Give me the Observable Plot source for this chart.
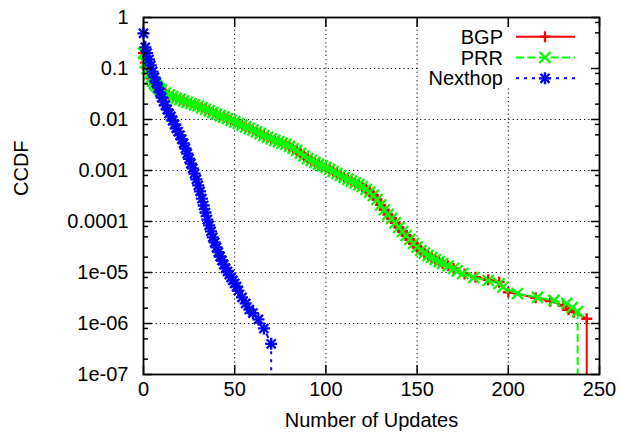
<!DOCTYPE html>
<html><head><meta charset="utf-8">
<script src="https://cdn.jsdelivr.net/npm/d3@7"></script>
<script src="https://cdn.jsdelivr.net/npm/@observablehq/plot@0.6"></script>
<style>
body{margin:0;background:#fff}
svg{font-family:"Liberation Sans",Arial,Helvetica,sans-serif}
</style>
</head><body><div id="chart"></div>
<script>
// ---- axis ticks / labels ----
const xTicks = [0, 50, 100, 150, 200, 250];
const xGrid = [50, 100, 150, 200];
const yTicks = [1, 0.1, 0.01, 0.001, 1e-4, 1e-5, 1e-6, 1e-7];
const yTickLabels = ["1", "0.1", "0.01", "0.001", "0.0001", "1e-05", "1e-06", "1e-07"];
const yGrid = [0.1, 0.01, 0.001, 1e-4, 1e-5, 1e-6];
const yMinorFactors = [0.8, 0.5, 0.2];
const xLabel = "Number of Updates";
const yLabel = "CCDF";
const seriesNames = ["BGP", "PRR", "Nexthop"];
const seriesColors = ["#ff0000", "#00ff00", "#0000ff"];

// ---- PRR (dense part; BGP coincides with it here) ----
const prrDenseX = [0,1,2,3,4,5,6,7,8,9,10,12,14,16,18,20,22,24,26,28,30,32,34,36,38,40,42,44,46,48,50,52,54,56,58,60,62,64,66,68,70,72,74,76,78,80,82,84,86,88,90,92,94,96,98,100,102,104,106,108,110,112,114,116,118,120,122,124,126,128,130,132,134,136,138,140,142,144,146,148,150,152,154,156,158,160,162,164];
const prrDenseY = [0.2,0.13,0.1,0.078,0.064,0.056,0.05,0.046,0.042,0.039,0.037,0.0331,0.0302,0.028,0.0262,0.0247,0.0231,0.0217,0.0206,0.0194,0.0184,0.0171,0.0159,0.0148,0.0138,0.0128,0.0119,0.0111,0.0104,0.00964,0.00897,0.00835,0.00773,0.00719,0.00669,0.00622,0.00574,0.00527,0.00486,0.0045,0.00419,0.00388,0.00366,0.00343,0.00324,0.00296,0.0027,0.00247,0.00218,0.00194,0.00172,0.00157,0.00144,0.00132,0.00123,0.00115,0.00105,9.55e-4,8.73e-4,7.98e-4,7.29e-4,6.72e-4,6.19e-4,5.71e-4,5.27e-4,4.86e-4,4.28e-4,3.77e-4,3.24e-4,2.7e-4,2.12e-4,1.7e-4,1.37e-4,1.15e-4,9.44e-5,7.62e-5,6.37e-5,5.31e-5,4.44e-5,3.7e-5,3.16e-5,2.7e-5,2.41e-5,2.15e-5,1.97e-5,1.8e-5,1.64e-5,1.5e-5];
const prrTailX = [167,170,172,175,181,189,195,197,205,216,225,232,235,238];
const prrTailY = [1.35e-5,1.2e-5,1.08e-5,9.55e-6,7.98e-6,6.97e-6,6.09e-6,5.15e-6,3.87e-6,3.24e-6,2.83e-6,2.47e-6,2.06e-6,1.72e-6];

// ---- BGP tail ----
const bgpTailX = [167,170,176,182,189,195,200,215,223,230,233,236,243];
const bgpTailY = [1.35e-5,1.2e-5,9.3e-6,8.1e-6,7.2e-6,6.45e-6,4.1e-6,3.2e-6,2.74e-6,2.25e-6,1.86e-6,1.67e-6,1.24e-6];

// ---- Nexthop ----
const nhX = [0,1,2,3,4,5,6,7,8,9,10,11,12,13,14,15,16,17,18,19,20,21,22,23,24,25,26,27,28,29,30,31,32,33,34,35,36,37,38,39,40,41,42,43,44,45,46,47,48,49,50,51,52,54,56,58,60,63,66,70];
const nhY = [0.49,0.26,0.2,0.15,0.115,0.087,0.067,0.053,0.042,0.034,0.027,0.0225,0.019,0.0157,0.013,0.0115,0.0095,0.008,0.0067,0.0058,0.0049,0.0041,0.0034,0.0027,0.00215,0.0017,0.00137,0.0011,8.7e-4,6.7e-4,5.1e-4,3.9e-4,2.8e-4,2.06e-4,1.5e-4,1.09e-4,8.4e-5,6.4e-5,4.9e-5,3.9e-5,3.1e-5,2.5e-5,2.06e-5,1.72e-5,1.44e-5,1.2e-5,1.05e-5,9.1e-6,8e-6,7e-6,6.1e-6,5.3e-6,4.4e-6,3.24e-6,2.47e-6,1.88e-6,1.6e-6,1.2e-6,8e-7,4e-7];

const toRows = (xs, ys) => xs.map((x, i) => ({x, y: ys[i]}));
const prr = toRows(prrDenseX.concat(prrTailX), prrDenseY.concat(prrTailY));
const bgp = toRows(prrDenseX.concat(bgpTailX), prrDenseY.concat(bgpTailY));
const nexthop = toRows(nhX, nhY);

const yDomain = [1e-7, 1];
const yMinor = [];
for (const d of yTicks.slice(0, -1)) for (const f of yMinorFactors) yMinor.push(d * f);

// symbol radii (Plot r; d3 symbol area = PI r^2)
const rP = 3.63, rT = 5.1, rSP = 3.95, rST = 4.2;
const dashes = [null, "8,3.5", "3,5"];

function seriesMarks(data, i, syms) {
  const color = seriesColors[i];
  const last = [data[data.length - 1]];
  const marks = [
    Plot.line(data, {x: "x", y: "y", stroke: color, strokeWidth: 2, strokeDasharray: dashes[i]}),
    Plot.ruleX(last, {x: "x", y1: "y", y2: yDomain[0], stroke: color, strokeWidth: 2, strokeDasharray: dashes[i]})
  ];
  for (const s of syms) marks.push(Plot.dot(data, {x: "x", y: "y", symbol: s.symbol, r: s.r, stroke: color, strokeWidth: 2.3}));
  return marks;
}

const axStyle = {label: null, stroke: "#000", strokeWidth: 1.5, strokeOpacity: 1};
const blank = () => "";
const FONT = 20;

const chart = Plot.plot({
  width: 621, height: 441,
  marginLeft: 143, marginRight: 22, marginTop: 17, marginBottom: 67,
  style: {fontFamily: "'Liberation Sans', Arial, sans-serif", fontSize: FONT + "px", background: "#fff", color: "#000"},
  x: {domain: [0, 250], axis: null},
  y: {type: "log", domain: yDomain, axis: null},
  marks: [
    Plot.ruleX(xGrid, {stroke: "#000", strokeWidth: 1, strokeDasharray: "1.2,3"}),
    Plot.ruleY(yGrid, {stroke: "#000", strokeWidth: 1, strokeDasharray: "1.2,3"}),
    ...seriesMarks(bgp, 0, [{symbol: "plus", r: rP}]),
    ...seriesMarks(prr, 1, [{symbol: "times", r: rT}]),
    ...seriesMarks(nexthop, 2, [{symbol: "plus", r: rSP}, {symbol: "times", r: rST}]),
    Plot.frame({stroke: "#000", strokeWidth: 1.8}),
    Plot.axisX(xTicks, {anchor: "bottom", tickSize: 9, dy: -9, tickFormat: blank, ...axStyle}),
    Plot.axisX(xTicks, {anchor: "top", tickSize: 9, dy: 9, tickFormat: blank, ...axStyle}),
    Plot.axisY(yTicks, {anchor: "left", tickSize: 9, dx: 9, tickFormat: blank, ...axStyle}),
    Plot.axisY(yMinor, {anchor: "left", tickSize: 5, dx: 5, tickFormat: blank, ...axStyle}),
    Plot.axisY(yTicks, {anchor: "right", tickSize: 9, dx: -9, tickFormat: blank, ...axStyle}),
    Plot.axisY(yMinor, {anchor: "right", tickSize: 5, dx: -5, tickFormat: blank, ...axStyle}),
    Plot.text(xTicks, {x: d => d, frameAnchor: "bottom", dy: 21, text: d => String(d), fontSize: FONT}),
    Plot.text(yTicks, {y: d => d, frameAnchor: "left", dx: -15, textAnchor: "end", text: (d, i) => yTickLabels[i], fontSize: FONT}),
    Plot.text([xLabel], {text: d => d, frameAnchor: "bottom", dy: 52, fontSize: FONT}),
    Plot.text([yLabel], {text: d => d, frameAnchor: "left", dx: -122, rotate: -90, fontSize: FONT})
  ]
});
document.getElementById("chart").appendChild(chart);

// ---- legend (inside plot, top-right, opaque) ----
const svg = d3.select(chart);
const lg = svg.append("g");
lg.append("rect").attr("x", 419).attr("y", 27).attr("width", 171).attr("height", 61).attr("fill", "#fff");
const legendSyms = [
  [{t: d3.symbolPlus, r: rP}],
  [{t: d3.symbolTimes, r: rT}],
  [{t: d3.symbolPlus, r: rSP}, {t: d3.symbolTimes, r: rST}]
];
seriesNames.forEach((name, i) => {
  const cy = 36.7 + i * 20.8;
  lg.append("text").attr("x", 503).attr("y", cy).attr("dy", "0.35em").attr("text-anchor", "end")
    .attr("font-size", FONT).attr("fill", "#000").text(name);
  lg.append("line").attr("x1", 516).attr("x2", 575).attr("y1", cy).attr("y2", cy)
    .attr("stroke", seriesColors[i]).attr("stroke-width", 2).attr("stroke-dasharray", dashes[i]);
  for (const s of legendSyms[i]) {
    lg.append("path").attr("transform", `translate(545,${cy})`)
      .attr("d", d3.symbol(s.t, Math.PI * s.r * s.r)())
      .attr("fill", "none").attr("stroke", seriesColors[i]).attr("stroke-width", 2.3);
  }
});
</script>
</body></html>
